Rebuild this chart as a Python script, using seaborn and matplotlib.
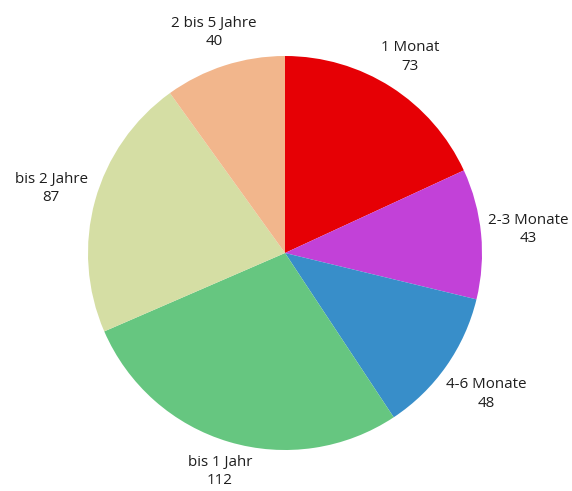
import numpy as np
import matplotlib
import matplotlib.pyplot as plt
import seaborn as sns

matplotlib.use("Agg")

categories = ["1 Monat", "2-3 Monate", "4-6 Monate", "bis 1 Jahr", "bis 2 Jahre", "2 bis 5 Jahre"]
values = [73, 43, 48, 112, 87, 40]
colors = ["#e60005", "#c241d8", "#388ec9", "#66c680", "#d5dea4", "#f2b68c"]

sns.set_theme(style="white")
plt.rcParams["font.family"] = ["Open Sans", "DejaVu Sans"]

W, H, DPI = 572, 491, 100
R_PX = 197.0
CX, CY = 285.0, 253.0

fig = plt.figure(figsize=(W / DPI, H / DPI), dpi=DPI)
ax = fig.add_axes([0, 0, 1, 1])

wedges, _ = ax.pie(values, colors=sns.color_palette(colors), startangle=90,
                   counterclock=False, wedgeprops=dict(linewidth=0))
ax.set_xlim(-CX / R_PX, (W - CX) / R_PX)
ax.set_ylim(-(H - CY) / R_PX, CY / R_PX)
ax.set_aspect("equal")
ax.axis("off")

# labels: box edge sits a fixed gap outside the rim
r0 = 1.03
texts = []
for w, cat, val in zip(wedges, categories, values):
    ang = np.deg2rad((w.theta1 + w.theta2) / 2)
    t = ax.text(r0 * np.cos(ang), r0 * np.sin(ang), f"{cat}\n{val}",
                ha="center", va="center", fontsize=10.9, color="#1e1e1e",
                linespacing=1.3)
    texts.append((t, ang))

fig.canvas.draw()
renderer = fig.canvas.get_renderer()
for t, ang in texts:
    bb = t.get_window_extent(renderer)
    hw = bb.width / 2 / R_PX
    hh = bb.height / 2 / R_PX
    r = r0 + hw * abs(np.cos(ang)) + hh * abs(np.sin(ang))
    t.set_position((r * np.cos(ang), r * np.sin(ang)))

fig.savefig("out.png", dpi=DPI)
plt.close(fig)
